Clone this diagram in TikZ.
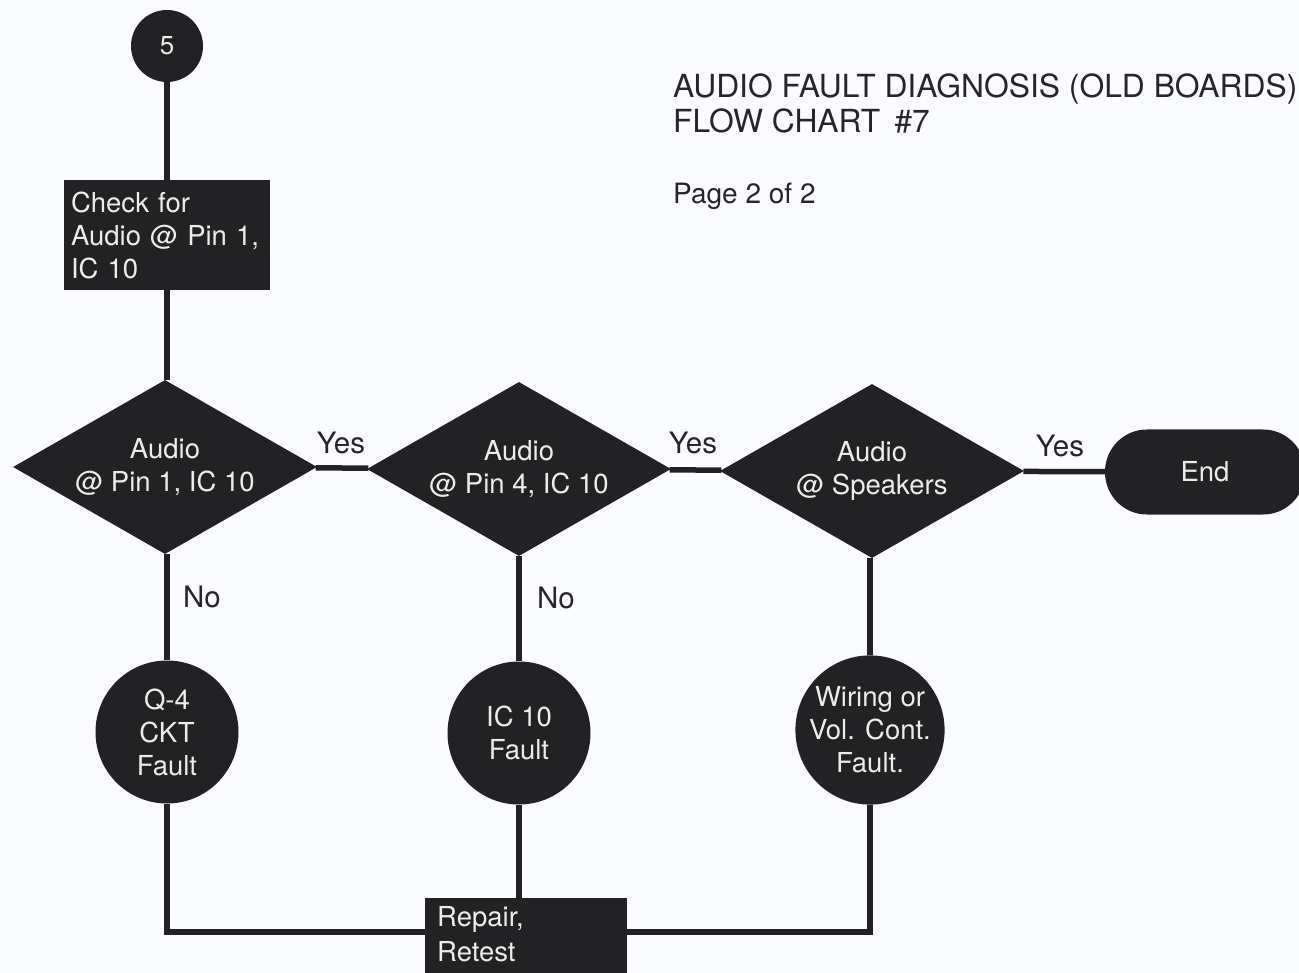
\documentclass[tikz,border=0pt]{standalone}
\usepackage{fontspec}
\setmainfont{TeX Gyre Heros}
\usetikzlibrary{shapes.geometric}
\definecolor{ink}{RGB}{34,33,36}
\definecolor{paper}{RGB}{251,252,253}
\definecolor{lettering}{RGB}{236,236,236}
\definecolor{printtext}{RGB}{38,38,40}

\begin{document}
\begin{tikzpicture}[x=1pt,y=-1pt,
  box/.style={fill=ink, text=lettering, font=\fontsize{27.5}{33}\selectfont, inner sep=0pt},
  decision/.style={box, diamond, shape aspect=1.74, minimum width=304pt, minimum height=174pt, align=center},
  fault/.style={box, circle, minimum size=143pt, align=center},
  link/.style={draw=ink, line width=5.5pt},
  answer/.style={text=printtext, font=\fontsize{29.5}{33}\selectfont, inner sep=0pt},
  heading/.style={anchor=base west, text=printtext, inner sep=0pt},
]
% paper
\fill[paper] (0,0) rectangle (1299,973);
\useasboundingbox (0,0) rectangle (1299,973);

% headings
\node[heading, font=\fontsize{31.8}{35}\selectfont] (title) at (673,98) {AUDIO FAULT DIAGNOSIS (OLD BOARDS)};
\node[heading, font=\fontsize{31.8}{35}\selectfont] (chart) at (673,133) {FLOW CHART\hspace{0.45em}\#7};
\node[heading, font=\fontsize{28}{33}\selectfont] (page) at (673,204) {Page 2 of 2};

% chart nodes
\node[box, circle, minimum size=72pt, font=\fontsize{26}{30}\selectfont] (start) at (167,46) {5};
\node[box, minimum width=206pt, minimum height=110pt, text width=192pt, align=left] (check) at (167,235) {Check for\\Audio @ Pin 1,\\IC 10};

\node[decision] (d1) at (165,467) {Audio\\@ Pin 1, IC 10};
\node[decision] (d2) at (519,469) {Audio\\@ Pin 4, IC 10};
\node[decision] (d3) at (872,471) {Audio\\@ Speakers};
\node[box, rounded corners=42pt, minimum width=200pt, minimum height=85pt] (end) at (1205,472) {End};

\node[fault] (q4) at (167,732) {Q-4\\CKT\\Fault};
\node[fault] (ic) at (519,733) {IC 10\\Fault};
\node[fault] (wire) at (870,730) {Wiring or\\Vol. Cont.\\Fault.};

\node[box, anchor=north west, minimum width=202pt, minimum height=110pt] (repair) at (425,898) {};
\node[anchor=north west, text=lettering, font=\fontsize{27.5}{35}\selectfont, align=left, inner sep=0pt] (repairtext) at (437,906) {Repair,\\Retest};

% connectors
\draw[link] (start) -- (check);
\draw[link] (check.south) -- (check.south |- d1.north);
\draw[link] (d1) -- (d2);
\draw[link] (d2) -- (d3);
\draw[link] (d3) -- (end);
\draw[link] (q4.north |- d1.south) -- (q4);
\draw[link] (d2) -- (ic);
\draw[link] (wire.north |- d3.south) -- (wire);
\draw[link] (q4.south) |- ([yshift=-34pt]repair.north west);
\draw[link] (ic) -- (ic |- repair.north);
\draw[link] (wire.south) |- ([yshift=-34pt]repair.north east);

% branch labels
\node[answer] (yes1) at (341,443) {Yes};
\node[answer] (yes2) at (693,443) {Yes};
\node[answer] (yes3) at (1060,446) {Yes};
\node[answer] (no1) at (202,597) {No};
\node[answer] (no2) at (556,598) {No};
\end{tikzpicture}
\end{document}
